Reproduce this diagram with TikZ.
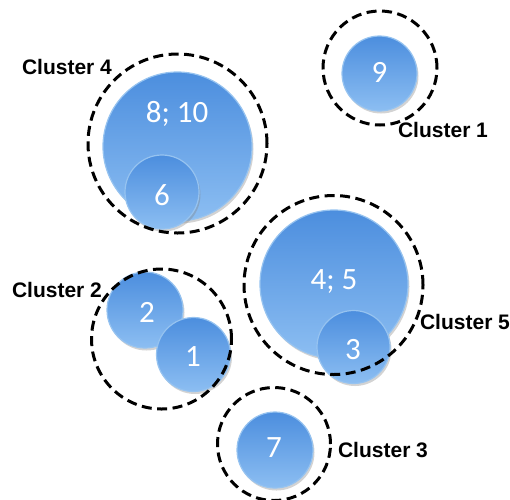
\documentclass[tikz,border=0pt]{standalone}
\usepackage{fontspec}
\newfontfamily\lblfont{Liberation Sans}
\newfontfamily\numfont{Carlito}
\usetikzlibrary{shadows}
\definecolor{btop}{RGB}{76,142,222}
\definecolor{bbot}{RGB}{140,190,242}
\definecolor{bedge}{RGB}{150,195,240}
\tikzset{
  bubble/.style={circle, inner sep=0pt, top color=btop, bottom color=bbot, draw=bedge, line width=1.2pt,
    drop shadow={opacity=0.35, shadow xshift=1.5pt, shadow yshift=-2.5pt}},
  num/.style={text=white, font=\numfont\fontsize{31}{33}\selectfont, inner sep=0pt},
  ring/.style={circle, inner sep=0pt, draw=black, line width=3pt, dash pattern=on 10pt off 5.5pt},
  clabel/.style={font=\lblfont\bfseries\fontsize{21}{23}\selectfont, inner sep=0pt}
}
\begin{document}
\begin{tikzpicture}[x=1pt,y=-1pt]
\useasboundingbox (0,0) rectangle (510,499);
% Cluster 4
\node[bubble, minimum size=149pt] (b810) at (177.5,146.5) {};
\node[num] (t810) at (177,114) {8; 10};
\node[bubble, minimum size=74pt] (b6) at (162,192) {};
\node[num] (t6) at (162,195) {6};
\node[ring, minimum size=179pt] (r4) at (177.5,143.5) {};
\node[clabel] (l4) at (67,67) {Cluster 4};
% Cluster 1
\node[bubble, minimum size=75pt] (b9) at (379.5,73.5) {};
\node[num] (t9) at (379.5,72) {9};
\node[ring, minimum size=114pt] (r1) at (380,68) {};
\node[clabel] (l1) at (443,130) {Cluster 1};
% Cluster 5
\node[bubble, minimum size=148pt] (b45) at (334,284) {};
\node[num] (t45) at (334,282) {4; 5};
\node[bubble, minimum size=73pt] (b3) at (353.5,347) {};
\node[num] (t3) at (353,350) {3};
\node[ring, minimum size=179pt] (r5) at (333.5,285) {};
\node[clabel] (l5) at (465,322) {Cluster 5};
% Cluster 2
\node[bubble, minimum size=76pt] (b2) at (145,310) {};
\node[num] (t2) at (147,312) {2};
\node[bubble, minimum size=74pt] (b1) at (193.5,354.5) {};
\node[num] (t1) at (193,357) {1};
\node[ring, minimum size=140pt] (r2) at (161.5,339) {};
\node[clabel] (l2) at (57,290) {Cluster 2};
% Cluster 3
\node[bubble, minimum size=76pt] (b7) at (275,450) {};
\node[num] (t7) at (274,448) {7};
\node[ring, minimum size=113pt] (r3) at (274,444) {};
\node[clabel] (l3) at (383,450) {Cluster 3};
\end{tikzpicture}
\end{document}
